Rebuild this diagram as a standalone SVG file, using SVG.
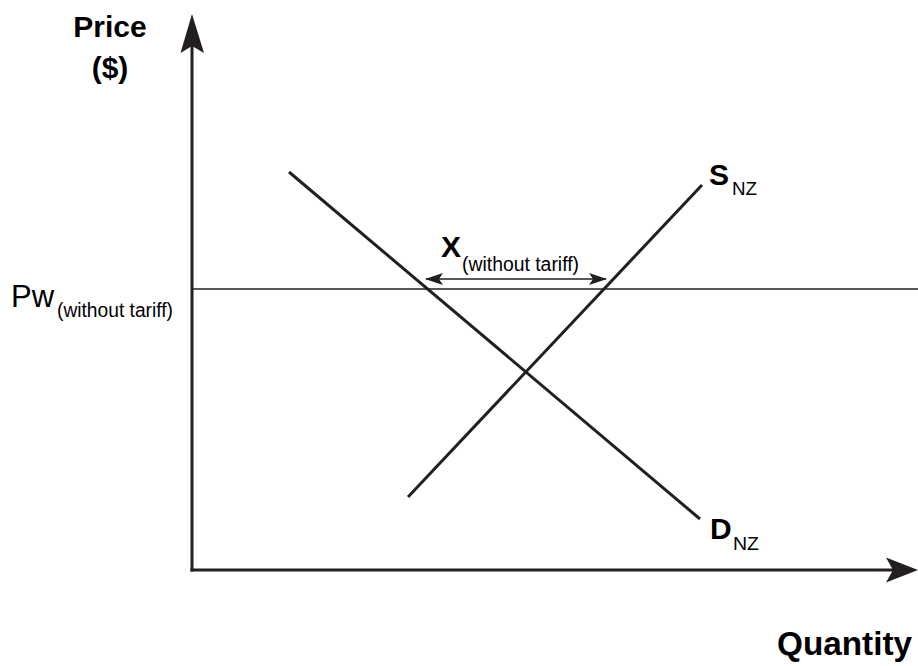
<svg xmlns="http://www.w3.org/2000/svg" width="918" height="666" viewBox="0 0 918 666">
<defs>
<style>
.ax{stroke:#231f20;stroke-width:3;fill:none}
.crv{stroke:#231f20;stroke-width:3;fill:none;stroke-linecap:butt}
.thin{stroke:#231f20;stroke-width:1.3;fill:none}
.head{fill:#231f20}
text{font-family:"Liberation Sans",Arial,Helvetica,sans-serif;fill:#000}
.b{font-weight:bold;font-size:30px}
.sub{font-size:19px}
.subl{font-size:20px}
</style>
<marker id="ah" viewBox="0 0 18 12" refX="17" refY="6" markerWidth="18" markerHeight="12" markerUnits="userSpaceOnUse" orient="auto-start-reverse">
<path d="M0,0 L18,6 L0,12 L4,6 Z" fill="#231f20"/>
</marker>
</defs>
<rect width="918" height="666" fill="#fff"/>
<g id="axes">
<line class="ax" x1="192" y1="571.5" x2="192" y2="44"/>
<line class="ax" x1="190.5" y1="570" x2="900" y2="570"/>
<path class="head" d="M192,14 L204,53 L192,46 L180.5,53 Z"/>
<path class="head" d="M918,570 L886,582.5 L893,570 L886,557.5 Z"/>
</g>
<g id="connectors">
<line class="thin" x1="192" y1="289" x2="918" y2="289"/>
<line class="crv" x1="289" y1="172" x2="700" y2="519"/>
<line class="crv" x1="408" y1="497" x2="702" y2="185"/>
<line stroke="#231f20" stroke-width="1.5" x1="426" y1="279" x2="606" y2="279" marker-start="url(#ah)" marker-end="url(#ah)"/>
</g>
<g id="label-price">
<text class="b" x="110" y="37" text-anchor="middle">Price</text>
<text class="b" x="110" y="78" text-anchor="middle">($)</text>
</g>
<g id="label-quantity">
<text class="b" x="777" y="655" style="font-size:33px" textLength="135" lengthAdjust="spacingAndGlyphs">Quantity</text>
</g>
<g id="label-pw">
<text x="11" y="307" style="font-size:31px">Pw</text>
<text class="subl" x="57" y="317" textLength="116" lengthAdjust="spacingAndGlyphs">(without tariff)</text>
</g>
<g id="label-x">
<text class="b" x="441" y="257">X</text>
<text class="subl" x="462" y="271" textLength="117" lengthAdjust="spacingAndGlyphs">(without tariff)</text>
</g>
<g id="label-s">
<text class="b" x="709" y="185">S</text>
<text class="sub" x="732" y="195" textLength="25" lengthAdjust="spacingAndGlyphs">NZ</text>
</g>
<g id="label-d">
<text class="b" x="710" y="539">D</text>
<text class="sub" x="733" y="550" textLength="26" lengthAdjust="spacingAndGlyphs">NZ</text>
</g>
</svg>
